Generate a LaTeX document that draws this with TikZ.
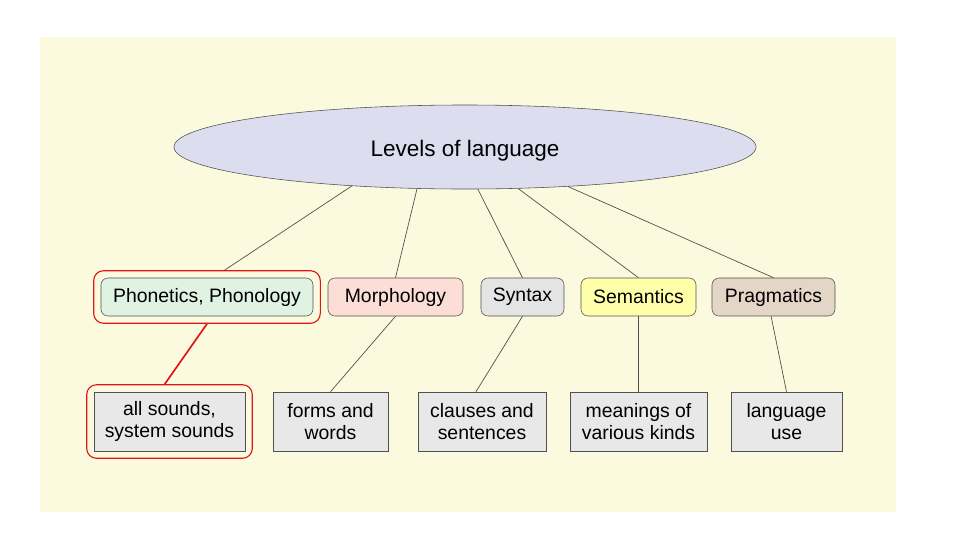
\documentclass[tikz,border=0pt]{standalone}
\usepackage{fontspec}
\setmainfont{Liberation Sans}
\usetikzlibrary{shapes.geometric,fit}
\definecolor{bgyellow}{RGB}{252,250,222}
\definecolor{ellfill}{RGB}{221,221,240}
\definecolor{phonfill}{RGB}{224,242,226}
\definecolor{morphfill}{RGB}{252,222,214}
\definecolor{syntfill}{RGB}{228,228,228}
\definecolor{semfill}{RGB}{255,255,170}
\definecolor{pragfill}{RGB}{228,214,198}
\definecolor{leaffill}{RGB}{232,232,232}
\definecolor{edgegray}{RGB}{80,80,80}
\definecolor{hired}{RGB}{226,20,20}
\begin{document}
\begin{tikzpicture}[x=0.025cm,y=-0.025cm,
        level/.style={draw=edgegray,rounded corners=5pt,minimum height=0.95cm,inner sep=0pt,
            font=\fontsize{13.8}{16}\selectfont},
        leaf/.style={draw=edgegray,fill=leaffill,minimum height=1.475cm,inner sep=0pt,
            align=center,font=\fontsize{13.8}{16}\selectfont},
        hilite/.style={draw=hired,thick,rounded corners=7pt,inner sep=0.175cm},
        link/.style={draw=edgegray,line width=0.5pt}]
    \useasboundingbox (0,0) rectangle (961,540);
    \fill[bgyellow] (40,37) rectangle (896,512);
    %top
    \node[ellipse,draw=edgegray,fill=ellfill,minimum width=14.55cm,minimum height=2.1cm,
        text height=0.485cm,text depth=0pt,
        font=\fontsize{16}{18}\selectfont] (lang) at (465,147) {Levels of language};
    %levels
    \node[level,fill=phonfill,minimum width=5.3cm] (phon) at (207,297) {Phonetics, Phonology};
    \node[level,fill=morphfill,minimum width=3.375cm] (morph) at (395.5,297) {Morphology};
    \node[level,fill=syntfill,minimum width=2.075cm] (synt) at (522.5,297) {Syntax};
    \node[level,fill=semfill,minimum width=2.875cm] (sem) at (638.5,297) {Semantics};
    \node[level,fill=pragfill,minimum width=3.075cm] (prag) at (773.5,297) {Pragmatics};
    %what each level is about
    \node[leaf,minimum width=3.775cm] (sounds) at (169.5,421.5) {all sounds,\\system sounds};
    \node[leaf,minimum width=2.875cm] (forms) at (330.5,421.5) {forms and\\words};
    \node[leaf,minimum width=3.2cm] (clauses) at (482,421.5) {clauses and\\sentences};
    \node[leaf,minimum width=3.425cm] (meanings) at (638.5,421.5) {meanings of\\various kinds};
    \node[leaf,minimum width=2.775cm] (use) at (786.5,421.5) {language\\use};
    %red marks
    \node[hilite,fit=(phon)] (phonH) {};
    \node[hilite,fit=(sounds)] (soundsH) {};
    %lines
    \draw[link] (lang.199.5) -- ([xshift=0.44cm]phonH.north);
    \draw[link] (lang.221) -- (morph.north);
    \draw[link] (lang.287.6) -- (synt.north);
    \draw[link] (lang.322) -- (sem.north);
    \draw[link] (lang.339) -- (prag.north);
    \draw[hired,line width=1.2pt] (phonH.south) -- ([xshift=-0.12cm]soundsH.north);
    \draw[link] (morph.south) -- (forms.north);
    \draw[link] (synt.south) -- ([xshift=-0.15cm]clauses.north);
    \draw[link] (sem.south) -- (meanings.north);
    \draw[link] ([xshift=-0.06cm]prag.south) -- (use.north);
\end{tikzpicture}
\end{document}
